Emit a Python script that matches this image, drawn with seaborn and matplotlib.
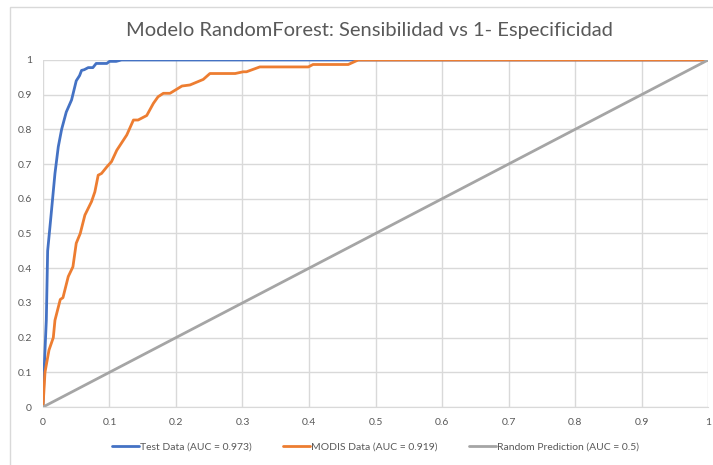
import seaborn as sns
import matplotlib.pyplot as plt
import matplotlib.patches as mpatches
import pandas as pd

# ROC points (1 - especificidad, sensibilidad)
test_fpr = [0.0, 0.002, 0.005, 0.007, 0.012, 0.018, 0.023, 0.028, 0.035, 0.043,
            0.050, 0.055, 0.058, 0.062, 0.068, 0.075, 0.080, 0.083, 0.096, 0.100,
            0.110, 0.118, 1.0]
test_tpr = [0.0, 0.12, 0.25, 0.45, 0.55, 0.673, 0.75, 0.80, 0.85, 0.885,
            0.94, 0.955, 0.97, 0.972, 0.978, 0.978, 0.99, 0.99, 0.99, 0.996,
            0.996, 1.0, 1.0]

modis_fpr = [0.0, 0.003, 0.009, 0.0155, 0.018, 0.022, 0.026, 0.030, 0.038, 0.045,
             0.050, 0.056, 0.063, 0.073, 0.078, 0.083, 0.088, 0.096, 0.103, 0.111,
             0.126, 0.136, 0.143, 0.156, 0.166, 0.173, 0.181, 0.191, 0.209, 0.221,
             0.241, 0.251, 0.289, 0.301, 0.306, 0.326, 0.399, 0.406, 0.459, 0.474, 1.0]
modis_tpr = [0.0, 0.10, 0.164, 0.20, 0.25, 0.28, 0.31, 0.315, 0.376, 0.404,
             0.472, 0.50, 0.553, 0.592, 0.62, 0.668, 0.673, 0.692, 0.707, 0.74,
             0.784, 0.827, 0.827, 0.84, 0.875, 0.894, 0.904, 0.904, 0.925, 0.928,
             0.944, 0.961, 0.961, 0.966, 0.966, 0.98, 0.98, 0.987, 0.987, 1.0, 1.0]

random_fpr = [0.0, 1.0]
random_tpr = [0.0, 1.0]

labels = ["Test Data (AUC = 0.973)", "MODIS Data (AUC = 0.919)",
          "Random Prediction (AUC = 0.5)"]
colors = ["#4472C4", "#ED7D31", "#A5A5A5"]

df = pd.concat([
    pd.DataFrame({"fpr": test_fpr, "tpr": test_tpr, "serie": labels[0]}),
    pd.DataFrame({"fpr": modis_fpr, "tpr": modis_tpr, "serie": labels[1]}),
    pd.DataFrame({"fpr": random_fpr, "tpr": random_tpr, "serie": labels[2]}),
])

sns.set_style("white")
plt.rcParams["font.family"] = ["Lato", "DejaVu Sans"]

fig = plt.figure(figsize=(7.13, 4.65), dpi=100)
ax = fig.add_axes([0.0603, 0.1247, 0.9327, 0.7463])

# series drawn in order, later ones on top (like the original)
for lab, col in zip(labels, colors):
    sub = df[df["serie"] == lab]
    sns.lineplot(data=sub, x="fpr", y="tpr", color=col, linewidth=2.0,
                 estimator=None, sort=False, ax=ax, label=lab)

ax.set_xlim(0, 1)
ax.set_ylim(0, 1)
ax.set_xticks([i / 10 for i in range(11)])
ax.set_yticks([i / 10 for i in range(11)])
tick_txt = ["0"] + [f"{i / 10:g}" for i in range(1, 10)] + ["1"]
ax.set_xticklabels(tick_txt)
ax.set_yticklabels(tick_txt)
ax.tick_params(axis="both", colors="#595959", labelsize=7.5, length=0, pad=8)
ax.grid(True, color="#D9D9D9", linewidth=1.0)
ax.set_axisbelow(True)
for side in ["top", "right", "left"]:
    ax.spines[side].set_visible(False)
ax.spines["bottom"].set_color("#D9D9D9")
ax.set_xlabel("")
ax.set_ylabel("")

ax.legend(loc="center", bbox_to_anchor=(0.5, -0.115), ncol=3, frameon=False,
          fontsize=7.5, handlelength=2.6, handletextpad=0.1, columnspacing=3.0,
          labelcolor="#595959")

fig.text(0.518, 0.935, "Modelo RandomForest: Sensibilidad vs 1- Especificidad",
         ha="center", va="center", fontsize=14.5, color="#595959")

# chart area border (only left and top edges visible)
fig.patches.append(mpatches.Rectangle((0.0147, -0.1), 1.2, 1.085,
                                      transform=fig.transFigure, fill=False,
                                      edgecolor="#D9D9D9", linewidth=1.0))

fig.savefig("out.png", dpi=100)
